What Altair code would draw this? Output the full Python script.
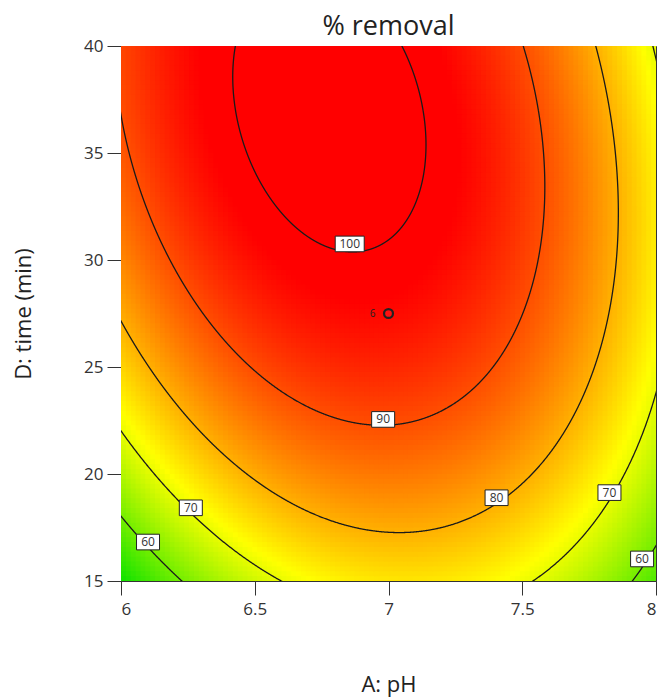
import numpy as np
import pandas as pd
import altair as alt

# ---------------- data ----------------
chart_title = "% removal"
x_title = "A: pH"
y_title = "D: time (min)"
ph_ticks = [6, 6.5, 7, 7.5, 8]
time_ticks = [15, 20, 25, 30, 35, 40]
contour_levels = [60, 70, 80, 90, 100]

# points (pH, time)
c100_ph = [6.418, 6.433, 6.493, 6.631, 6.855, 6.979, 7.105, 7.143, 7.053]
c100_t = [40.0, 37.17, 34.08, 31.88, 30.66, 31.08, 32.81, 35.62, 40.0]
c90_ph = [6.0, 6.082, 6.120, 6.295, 6.456, 6.669, 6.993, 7.229, 7.341, 7.415, 7.490, 7.584, 7.501]
c90_t = [36.42, 33.27, 31.40, 28.26, 25.45, 23.29, 22.21, 22.96, 24.23, 25.16, 27.19, 33.42, 40.0]
c80_ph = [6.0, 6.134, 6.269, 7.229, 7.404, 7.707, 7.752, 7.856, 7.774]
c80_t = [26.95, 24.37, 22.03, 17.48, 18.89, 22.97, 24.37, 31.41, 40.0]
c70_ph = [6.0, 6.261, 6.583, 7.557, 7.826, 8.0, 7.99]
c70_t = [21.98, 18.42, 15.0, 15.0, 19.13, 23.4, 40.0]
c60_ph = [6.0, 6.101, 6.223, 7.920, 7.950, 8.0]
c60_t = [17.94, 16.82, 15.0, 15.0, 16.03, 16.55]

# contour label boxes
label_text = ["100", "90", "80", "70", "70", "60", "60"]
label_ph = [6.855, 6.98, 7.404, 6.261, 7.826, 6.101, 7.948]
label_t = [30.75, 22.55, 18.89, 18.42, 19.13, 16.82, 16.03]

# design point
design_ph = [7.0]
design_t = [27.5]
design_n = ["6"]

# colour ramp
ramp_values = [50, 72, 98]
ramp_colors = ["#00e000", "#ffff00", "#ff0000"]

FONT = "Open Sans"

# ---------------- fit the response surface to the contour readings ----------------
def coded(p, t):
    return np.asarray(p) - 7.0, (np.asarray(t) - 27.5) / 12.5

rows, ys = [], []
for lvl, phs, ts in [(100, c100_ph, c100_t), (90, c90_ph, c90_t), (80, c80_ph, c80_t),
                     (70, c70_ph, c70_t), (60, c60_ph, c60_t)]:
    a, d = coded(phs, ts)
    for ai, di in zip(a, d):
        rows.append([1, ai, di, ai * di, ai * ai, di * di])
        ys.append(lvl)
b = np.linalg.lstsq(np.array(rows), np.array(ys, dtype=float), rcond=None)[0]


def model(a, d):
    return b[0] + b[1] * a + b[2] * d + b[3] * a * d + b[4] * a * a + b[5] * d * d

# heat-map grid
n = 110
sx, st = 2.0 / n, 25.0 / n
gx = 6 + sx * np.arange(n)
gt = 15 + st * np.arange(n)
GX, GT = np.meshgrid(gx, gt)
A, D = coded(GX + sx / 2, GT + st / 2)
heat = pd.DataFrame({
    "x": GX.ravel(), "x2": (GX + sx * 1.25).clip(max=8).ravel(),
    "y": GT.ravel(), "y2": (GT + st * 1.25).clip(max=40).ravel(),
    "v": model(A, D).ravel(),
})

# contour lines from the fitted surface (polar around stationary point)
H = np.array([[2 * b[4], b[3]], [b[3], 2 * b[5]]])
c = np.linalg.solve(H, -np.array([b[1], b[2]]))
fc = model(c[0], c[1])
th = np.linspace(0, 2 * np.pi, 4001)
q = b[4] * np.cos(th) ** 2 + b[3] * np.cos(th) * np.sin(th) + b[5] * np.sin(th) ** 2
recs = []
seg = 0
for lvl in contour_levels:
    with np.errstate(divide="ignore", invalid="ignore"):
        r2 = (lvl - fc) / q
    ok = np.isfinite(r2) & (r2 > 0)
    r = np.sqrt(np.where(ok, r2, 0))
    pa = 7 + c[0] + r * np.cos(th)
    pt = 27.5 + 12.5 * (c[1] + r * np.sin(th))
    inside = ok & (pa > 5.9) & (pa < 8.1) & (pt > 14) & (pt < 41)
    prev = False
    for i in range(len(th)):
        if inside[i]:
            if not prev:
                seg += 1
            recs.append({"ph": pa[i], "t": pt[i], "seg": seg, "i": i})
        prev = inside[i]
lines = pd.DataFrame(recs)

labels = pd.DataFrame({"ph": label_ph, "t": label_t, "txt": label_text})
labels["w"] = labels["txt"].str.len()
design = pd.DataFrame({"ph": design_ph, "t": design_t, "n": design_n})

# ---------------- chart ----------------
xs = alt.Scale(domain=[6, 8], nice=False, zero=False)
ys_ = alt.Scale(domain=[15, 40], nice=False, zero=False)
xax = alt.Axis(values=ph_ticks, format="~g", title=x_title, grid=False, tickSize=14,
               labelPadding=6, titlePadding=57)
yax = alt.Axis(values=time_ticks, format="~g", title=y_title, grid=False, tickSize=14,
               labelPadding=4, titlePadding=48)

heat_layer = alt.Chart(heat).mark_rect(strokeWidth=0).encode(
    x=alt.X("x:Q", scale=xs, axis=xax),
    x2="x2:Q",
    y=alt.Y("y:Q", scale=ys_, axis=yax),
    y2="y2:Q",
    color=alt.Color("v:Q", scale=alt.Scale(domain=ramp_values, range=ramp_colors,
                                           clamp=True, interpolate="rgb"), legend=None),
)

line_layer = alt.Chart(lines).mark_line(color="#1a1a1a", strokeWidth=1.3, clip=True).encode(
    x=alt.X("ph:Q", scale=xs), y=alt.Y("t:Q", scale=ys_), detail="seg:N", order="i:Q"
)

box2 = "M-1,-0.68L1,-0.68L1,0.68L-1,0.68Z"
box3 = "M-1,-0.54L1,-0.54L1,0.54L-1,0.54Z"
lab2 = alt.Chart(labels).transform_filter("datum.w == 2").mark_point(
    shape=box2, size=529, filled=True, fill="white", stroke="#222", strokeWidth=1, opacity=1
).encode(x=alt.X("ph:Q", scale=xs), y=alt.Y("t:Q", scale=ys_))
lab3 = alt.Chart(labels).transform_filter("datum.w == 3").mark_point(
    shape=box3, size=841, filled=True, fill="white", stroke="#222", strokeWidth=1, opacity=1
).encode(x=alt.X("ph:Q", scale=xs), y=alt.Y("t:Q", scale=ys_))
lab_txt = alt.Chart(labels).mark_text(font=FONT, fontSize=12, color="#333").encode(
    x=alt.X("ph:Q", scale=xs), y=alt.Y("t:Q", scale=ys_), text="txt:N"
)

dp = alt.Chart(design).mark_point(shape="circle", size=80, filled=True, fill="#ff1010",
                                  stroke="#222", strokeWidth=2.2, opacity=1).encode(
    x=alt.X("ph:Q", scale=xs), y=alt.Y("t:Q", scale=ys_))
dp_txt = alt.Chart(design).mark_text(font=FONT, fontSize=10, color="#222", dx=-16).encode(
    x=alt.X("ph:Q", scale=xs), y=alt.Y("t:Q", scale=ys_), text="n:N")

chart = alt.layer(heat_layer, line_layer, lab2, lab3, lab_txt, dp, dp_txt).properties(
    width=535, height=535,
    title=alt.TitleParams(chart_title, fontSize=27, font=FONT, fontWeight="normal",
                          color="#222", offset=-4, anchor="middle"),
    autosize=alt.AutoSizeParams(type="none"),
    padding={"left": 121, "top": 46, "right": 6, "bottom": 119},
).configure_view(stroke="#333", strokeWidth=1).configure_axis(
    labelFont=FONT, titleFont=FONT, labelFontSize=17, titleFontSize=22,
    labelColor="#333", titleColor="#222", titleFontWeight="normal",
    domainColor="#333", tickColor="#333",
)

chart.save("out.html", embed_options={"renderer": "svg", "actions": False})
